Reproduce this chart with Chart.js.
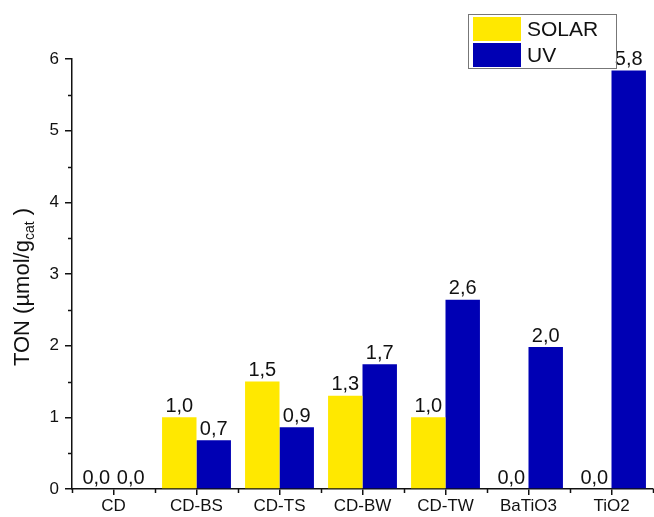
<!DOCTYPE html>
<html>
<head>
<meta charset="utf-8">
<script src="https://cdn.jsdelivr.net/npm/chart.js@4.4.1/dist/chart.umd.min.js"></script>
<style>
  body { margin: 0; background: #fff; }
  #wrap { width: 654px; height: 517px; }
</style>
</head>
<body>
<div id="wrap"><canvas id="barChart" width="654" height="517"></canvas></div>
<script>
const categories = ['CD', 'CD-BS', 'CD-TS', 'CD-BW', 'CD-TW', 'BaTiO3', 'TiO2'];
const solarValues = [0, 1.0, 1.5, 1.3, 1.0, 0, 0];
const uvValues = [0, 0.68, 0.86, 1.74, 2.64, 1.98, 5.84];
const seriesNames = ['SOLAR', 'UV'];
const yMin = 0;
const yMax = 6;

const FONT = "'Liberation Sans', Arial, sans-serif";
const YELLOW = '#FFE800';
const BLUE = '#0000B4';

// value labels above every bar, with comma decimals
const barLabels = {
  id: 'barLabels',
  afterDatasetsDraw(chart) {
    const ctx = chart.ctx;
    ctx.save();
    ctx.font = '20px ' + FONT;
    ctx.fillStyle = '#111';
    ctx.textAlign = 'center';
    ctx.textBaseline = 'bottom';
    chart.data.datasets.forEach((ds, i) => {
      chart.getDatasetMeta(i).data.forEach((bar, j) => {
        const txt = ds.data[j].toFixed(1).replace('.', ',');
        ctx.fillText(txt, bar.x, bar.y - 1);
      });
    });
    ctx.restore();
  }
};

// minor ticks, y title with subscript, boxed legend
const extras = {
  id: 'extras',
  afterDraw(chart) {
    const ctx = chart.ctx;
    const x = chart.scales.x;
    const y = chart.scales.y;
    const area = chart.chartArea;
    ctx.save();
    ctx.strokeStyle = '#111';
    ctx.lineWidth = 1.5;
    ctx.beginPath();
    for (let v = yMin + 0.5; v < yMax; v += 1) {
      const py = Math.round(y.getPixelForValue(v)) + 0.5;
      ctx.moveTo(area.left - 4, py);
      ctx.lineTo(area.left, py);
    }
    for (let i = 0; i <= categories.length; i++) {
      const px = Math.round(x.getPixelForValue(i - 0.5)) + 0.5;
      ctx.moveTo(px, area.bottom);
      ctx.lineTo(px, area.bottom + 4);
    }
    ctx.stroke();

    // y title
    ctx.translate(23, 287);
    ctx.rotate(-Math.PI / 2);
    ctx.fillStyle = '#111';
    ctx.textBaseline = 'middle';
    const big = '22px ' + FONT;
    const small = '14px ' + FONT;
    const parts = [['TON (\u00B5mol/g', big, 0], ['cat', small, 7], [' )', big, 0]];
    let total = 0;
    parts.forEach(p => { ctx.font = p[1]; total += ctx.measureText(p[0]).width; });
    let cx = -total / 2;
    ctx.textAlign = 'left';
    parts.forEach(p => {
      ctx.font = p[1];
      ctx.fillText(p[0], cx, p[2]);
      cx += ctx.measureText(p[0]).width;
    });
    ctx.restore();

    // legend
    ctx.save();
    ctx.strokeStyle = '#777';
    ctx.lineWidth = 1;
    ctx.strokeRect(468.5, 14.5, 148, 54);
    const colors = [YELLOW, BLUE];
    ctx.font = '21px ' + FONT;
    ctx.textBaseline = 'middle';
    ctx.textAlign = 'left';
    seriesNames.forEach((name, i) => {
      ctx.fillStyle = colors[i];
      ctx.fillRect(473, 17 + i * 26, 48, 24);
      ctx.fillStyle = '#111';
      ctx.fillText(name, 527, 30 + i * 26);
    });
    ctx.restore();
  }
};

const ctx = document.getElementById('barChart').getContext('2d');
const barChart = new Chart(ctx, {
  type: 'bar',
  data: {
    labels: categories,
    datasets: [
      {
        label: seriesNames[0],
        data: solarValues,
        backgroundColor: YELLOW,
        categoryPercentage: 0.83,
        barPercentage: 1.0
      },
      {
        label: seriesNames[1],
        data: uvValues,
        backgroundColor: BLUE,
        categoryPercentage: 0.83,
        barPercentage: 1.0
      }
    ]
  },
  options: {
    responsive: false,
    animation: false,
    layout: { padding: { top: 59, right: 1, left: 0, bottom: 0 } },
    plugins: {
      legend: { display: false },
      tooltip: { enabled: false }
    },
    scales: {
      x: {
        afterFit(scale) { scale.height = 28; },
        grid: {
          drawOnChartArea: false,
          offset: false,
          color: '#111',
          lineWidth: 1.5,
          tickLength: 6
        },
        border: { color: '#111', width: 1.5 },
        ticks: {
          color: '#111',
          font: { family: FONT, size: 17 },
          padding: 1,
          maxRotation: 0
        }
      },
      y: {
        min: yMin,
        max: yMax,
        afterFit(scale) { scale.width = 72; },
        grid: {
          drawOnChartArea: false,
          color: '#111',
          lineWidth: 1.5,
          tickLength: 7
        },
        border: { color: '#111', width: 1.5 },
        ticks: {
          stepSize: 1,
          color: '#111',
          font: { family: FONT, size: 17 },
          padding: 6
        }
      }
    }
  },
  plugins: [barLabels, extras]
});
</script>
</body>
</html>
